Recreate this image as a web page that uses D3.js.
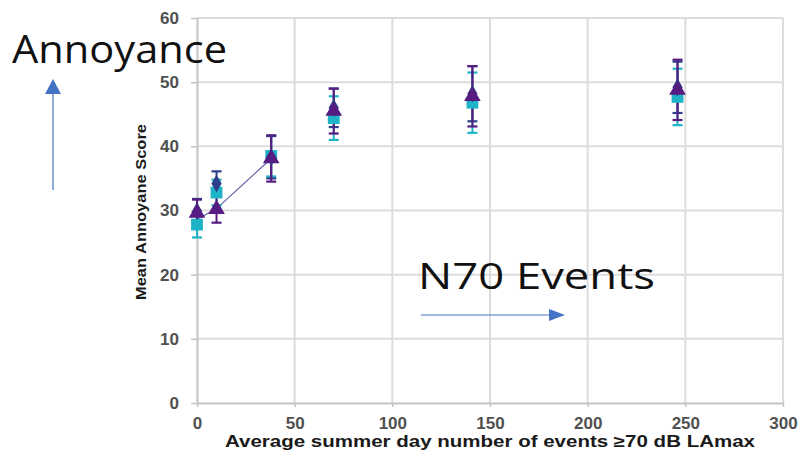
<!DOCTYPE html>
<html><head><meta charset="utf-8">
<script src="https://cdn.jsdelivr.net/npm/d3@7/dist/d3.min.js"></script>
<style>body{margin:0;background:#fff;} svg{display:block;}</style>
</head><body>
<svg id="c" width="804" height="458"></svg>
<script>
// ---- data ----
const xValues = [0, 10, 38, 70, 141, 246];
const purpleTri = [29.6, 30.2, 38.1, 45.5, 47.8, 48.8];
const purpleErr = [2.1, 2.1, 3.6, 3.5, 4.7, 4.7];
const blueDia = [29.9, 34.2, 38.3, 46.0, 48.2, 49.2];
const blueErr = [1.9, 1.9, 3.3, 3.0, 4.3, 4.0];
const cyanSq = [27.8, 32.8, 38.5, 44.4, 46.8, 47.7];
const cyanErr = [2.0, 2.0, 3.2, 3.4, 4.7, 4.4];
const lineX = [0, 10, 38];
const lineY = [28.6, 30.3, 38.1];
const xTicks = [0, 50, 100, 150, 200, 250, 300];
const yTicks = [0, 10, 20, 30, 40, 50, 60];

const svg = d3.select('#c');
const x = d3.scaleLinear().domain([0, 300]).range([197, 783]);
const y = d3.scaleLinear().domain([0, 60]).range([403, 18]);

// gridlines
svg.append('g').selectAll('line').data(yTicks.slice(1)).join('line')
  .attr('x1', x(0)).attr('x2', x(300)).attr('y1', d => y(d)).attr('y2', d => y(d))
  .attr('stroke', '#dcdcdc').attr('stroke-width', 2);
svg.append('g').selectAll('line').data(xTicks.slice(1)).join('line')
  .attr('x1', d => x(d)).attr('x2', d => x(d)).attr('y1', y(0)).attr('y2', y(60))
  .attr('stroke', '#dcdcdc').attr('stroke-width', 2);

// axes
const yAxis = svg.append('g').attr('transform', `translate(${x(0)},0)`)
  .call(d3.axisLeft(y).tickValues(yTicks).tickSize(6).tickPadding(12).tickSizeOuter(0));
const xAxis = svg.append('g').attr('transform', `translate(0,${y(0)})`)
  .call(d3.axisBottom(x).tickValues(xTicks).tickSize(4).tickPadding(10).tickSizeOuter(0));
[yAxis, xAxis].forEach(g => {
  g.select('.domain').attr('stroke', '#c4c4c4').attr('stroke-width', 2);
  g.selectAll('.tick line').attr('stroke', '#c4c4c4').attr('stroke-width', 1.5);
  g.selectAll('.tick text').attr('fill', '#505050').attr('font-family', 'Liberation Sans, Arial, sans-serif')
    .attr('font-weight', 'bold').attr('font-size', 17);
});

// axis titles
svg.append('text').attr('x', 490).attr('y', 447).attr('text-anchor', 'middle')
  .attr('font-family', 'Liberation Sans, Arial, sans-serif').attr('font-weight', 'bold')
  .attr('font-size', 16).attr('fill', '#1a1a1a')
  .attr('textLength', 530).attr('lengthAdjust', 'spacingAndGlyphs')
  .text('Average summer day number of events ≥70 dB LAmax');
svg.append('text').attr('transform', 'translate(146,212) rotate(-90)').attr('text-anchor', 'middle')
  .attr('font-family', 'Liberation Sans, Arial, sans-serif').attr('font-weight', 'bold')
  .attr('font-size', 14).attr('fill', '#1a1a1a')
  .attr('textLength', 176).attr('lengthAdjust', 'spacingAndGlyphs')
  .text('Mean Annoyane Score');

// trend line
svg.append('path').datum(lineX.map((d, i) => [d, lineY[i]]))
  .attr('d', d3.line().x(d => x(d[0])).y(d => y(d[1])))
  .attr('fill', 'none').attr('stroke', '#5a5fa8').attr('stroke-width', 1.2);

const series = [
  {vals: cyanSq, err: cyanErr, color: '#1fb3c8', sym: d3.symbolSquare, size: 140},
  {vals: blueDia, err: blueErr, color: '#2b3f8a', sym: d3.symbolDiamond, size: 90},
  {vals: purpleTri, err: purpleErr, color: '#561c82', sym: d3.symbolTriangle, size: 120},
];
// error bars
series.forEach(s => {
  const g = svg.append('g');
  xValues.forEach((xv, i) => {
    const cx = x(xv), lo = y(s.vals[i] - s.err[i]), hi = y(s.vals[i] + s.err[i]);
    g.append('line').attr('x1', cx).attr('x2', cx).attr('y1', lo).attr('y2', hi)
      .attr('stroke', s.color).attr('stroke-width', 2);
    [lo, hi].forEach(yy => g.append('line').attr('x1', cx - 5).attr('x2', cx + 5)
      .attr('y1', yy).attr('y2', yy).attr('stroke', s.color).attr('stroke-width', 2.2));
  });
});
// markers
series.forEach(s => {
  svg.append('g').selectAll('path').data(xValues.map((xv, i) => [xv, s.vals[i]])).join('path')
    .attr('transform', d => `translate(${x(d[0])},${y(d[1])})`)
    .attr('d', d3.symbol().type(s.sym).size(s.size))
    .attr('fill', s.color);
});

// annotations
svg.append('text').attr('x', 12).attr('y', 63).attr('font-family', 'Open Sans, sans-serif')
  .attr('font-size', 38).attr('fill', '#111')
  .attr('textLength', 215).attr('lengthAdjust', 'spacingAndGlyphs').text('Annoyance');
svg.append('text').attr('x', 418).attr('y', 289).attr('font-family', 'Open Sans, sans-serif')
  .attr('font-size', 36).attr('fill', '#111')
  .attr('textLength', 237).attr('lengthAdjust', 'spacingAndGlyphs').text('N70 Events');

const arrowColor = '#4472c4';
svg.append('line').attr('x1', 53).attr('x2', 53).attr('y1', 190).attr('y2', 93)
  .attr('stroke', arrowColor).attr('stroke-width', 1.2);
svg.append('path').attr('d', 'M53,79 L61,94 L45,94 Z').attr('fill', arrowColor);
svg.append('line').attr('x1', 421).attr('x2', 550).attr('y1', 315).attr('y2', 315)
  .attr('stroke', arrowColor).attr('stroke-width', 1.2);
svg.append('path').attr('d', 'M565,315 L549,309 L549,321 Z').attr('fill', arrowColor);
</script>
</body></html>
